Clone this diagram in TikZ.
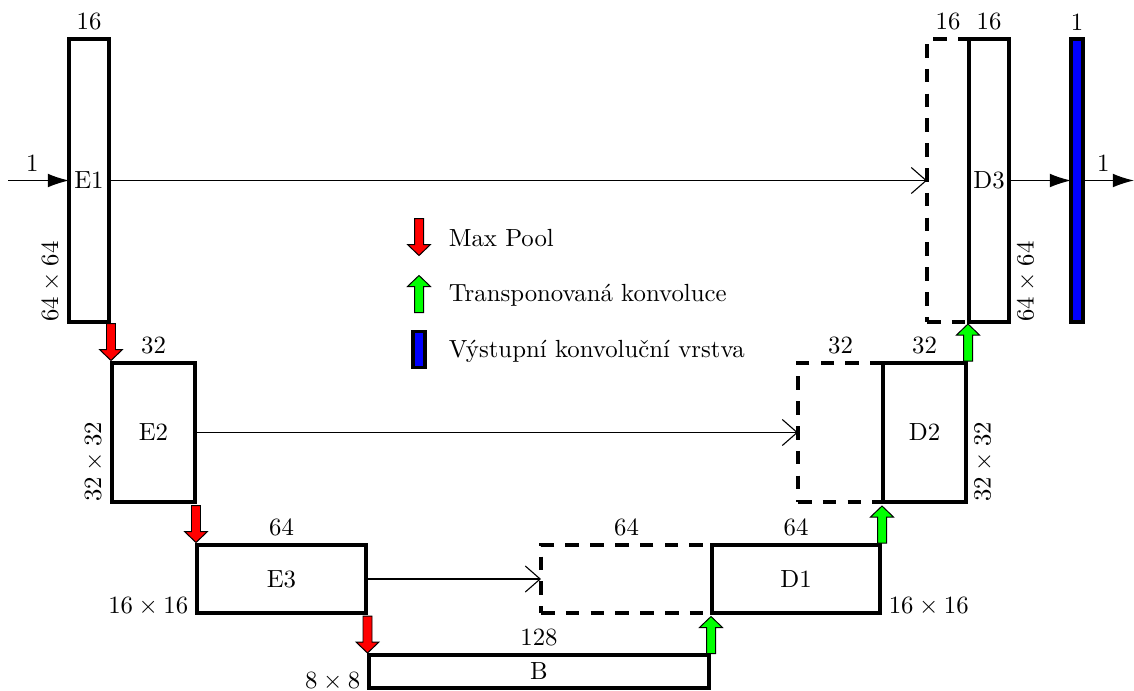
\documentclass[tikz,border=0pt]{standalone}
\usepackage{fontspec}
\usetikzlibrary{arrows.meta}
\begin{document}
\begin{tikzpicture}[x=0.4032pt,y=-0.4032pt,
  blk/.style={draw, line width=1.3pt, inner sep=0pt, outer sep=0pt},
  cat/.style={blk, dash pattern=on 5.5pt off 4.5pt},
  outl/.style={blk, fill=blue},
  sz/.style 2 args={minimum width={#1*0.4032pt}, minimum height={#2*0.4032pt}},
  toplbl/.style={anchor=south, inner sep=3.33pt},
  rotl/.style={rotate=90, inner xsep=0pt, inner ysep=3.33pt, anchor=south west},
  rotr/.style={rotate=90, inner xsep=0pt, inner ysep=3.33pt, anchor=north west},
  skip/.style={-{Straight Barb[length=6pt,width=10.5pt]}, line width=0.45pt},
  flow/.style={-{Latex[length=8.5pt,width=5.5pt]}, line width=0.45pt},
  downarr/.pic={\path[draw=black, line width=0.4pt, fill=red]
     (-4.5,-18.5) -- (4.5,-18.5) -- (4.5,7.5) -- (11.5,7.5) -- (0,18.5)
     -- (-11.5,7.5) -- (-4.5,7.5) -- cycle;},
  uparr/.pic={\path[draw=black, line width=0.4pt, fill=green]
     (-4.5,18.5) -- (4.5,18.5) -- (4.5,-7.5) -- (11.5,-7.5) -- (0,-18.5)
     -- (-11.5,-7.5) -- (-4.5,-7.5) -- cycle;},
]
\useasboundingbox (0,0) rectangle (1134,690);

% concatenation (dashed) boxes
\node[cat, sz={171}{68}] (C1) at (626.5,579) {};
\node[cat, sz={85}{139}] (C2) at (840.5,432.5) {};
\node[cat, sz={42}{283}] (C3) at (948,180.5) {};

% blocks
\node[blk, sz={40}{283}] (E1) at (89,180.5) {E1};
\node[blk, sz={83}{139}] (E2) at (153.5,432.5) {E2};
\node[blk, sz={169}{68}] (E3) at (281.5,579) {E3};
\node[blk, sz={340}{33}] (B) at (539,671.5) {B};
\node[blk, sz={168}{68}] (D1) at (796,579) {D1};
\node[blk, sz={83}{139}] (D2) at (924.5,432.5) {D2};
\node[blk, sz={40}{283}] (D3) at (989,180.5) {D3};
\node[outl, sz={12}{283}] (OUT) at (1077,180.5) {};

% channel labels
\node[toplbl] (tE1) at (E1.north) {16};
\node[toplbl] (tE2) at (E2.north) {32};
\node[toplbl] (tE3) at (E3.north) {64};
\node[toplbl] (tB) at (B.north) {128};
\node[toplbl] (tD1) at (D1.north) {64};
\node[toplbl] (tC1) at (C1.north) {64};
\node[toplbl] (tD2) at (D2.north) {32};
\node[toplbl] (tC2) at (C2.north) {32};
\node[toplbl] (tD3) at (D3.north) {16};
\node[toplbl] (tC3) at (C3.north) {16};
\node[toplbl] (tOUT) at (OUT.north) {1};

% spatial labels
\node[rotl] (sE1) at (E1.south west) {$64\times 64$};
\node[rotl] (sE2) at (E2.south west) {$32\times 32$};
\node[anchor=base east, inner sep=3.33pt] (sE3) at (E3.south west) {$16\times 16$};
\node[anchor=base east, inner sep=3.33pt] (sB) at (B.south west) {$8\times 8$};
\node[anchor=base west, inner sep=3.33pt] (sD1) at (D1.south east) {$16\times 16$};
\node[rotr] (sD2) at (D2.south east) {$32\times 32$};
\node[rotr] (sD3) at (D3.south east) {$64\times 64$};

% skip connections
\draw[skip] (E1.east) -- (C3.west);
\draw[skip] (E2.east) -- (C2.west);
\draw[skip] (E3.east) -- (C1.west);

% input / output
\coordinate (inp) at (8,180.5);
\coordinate (outp) at (1134,180.5);
\draw[flow] (inp) -- (E1.west) node[above, pos=0.4, inner sep=3.33pt] (lin) {1};
\draw[flow] (D3.east) -- (OUT.west);
\draw[flow] (OUT.east) -- (outp) node[above, pos=0.4, inner sep=3.33pt] (lout) {1};

% max pool arrows
\pic at (111,342) {downarr};
\pic at (196,524) {downarr};
\pic at (367.5,634.5) {downarr};

% transposed convolution arrows
\pic at (711,635) {uparr};
\pic at (882,524.5) {uparr};
\pic at (968,342.5) {uparr};

% legend
\pic at (419,237) {downarr};
\pic at (419,294) {uparr};
\node[outl, sz={12}{36}] (legout) at (419,349.5) {};
\node[anchor=base west, inner sep=3.33pt] (lg1) at (440,246) {Max Pool};
\node[anchor=base west, inner sep=3.33pt] (lg2) at (440,301) {Transponovaná konvoluce};
\node[anchor=base west, inner sep=3.33pt] (lg3) at (440,357) {Výstupní konvoluční vrstva};
\end{tikzpicture}
\end{document}
